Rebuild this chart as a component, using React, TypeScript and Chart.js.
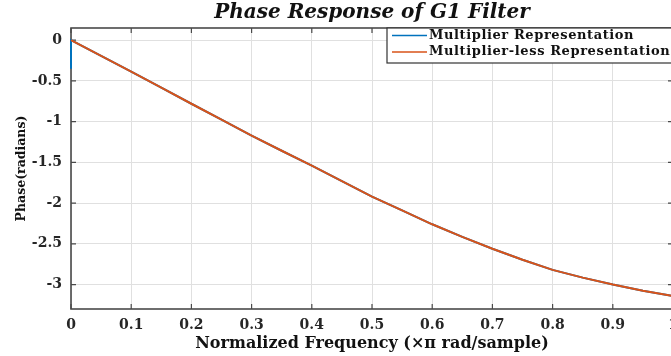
import { useEffect, useRef } from 'react';
import { Chart, registerables } from 'chart.js';

Chart.register(...registerables);

// Normalized frequency samples (x pi rad/sample)
const freq = [0, 0.05, 0.1, 0.15, 0.2, 0.25, 0.3, 0.35, 0.4, 0.45, 0.5, 0.55, 0.6, 0.65, 0.7, 0.75, 0.8, 0.85, 0.9, 0.95, 1];

// Phase (radians) of the multiplier-less realisation
const phaseMultLess = [0, -0.193, -0.387, -0.583, -0.78, -0.975, -1.17, -1.357, -1.54, -1.73, -1.92, -2.09, -2.26, -2.415, -2.56, -2.695, -2.82, -2.915, -3.0, -3.075, -3.14];

// Phase (radians) of the multiplier realisation (starts with a short jump at DC)
const freqMult = [0, 0, 0.05, 0.1, 0.15, 0.2, 0.25, 0.3, 0.35, 0.4, 0.45, 0.5, 0.55, 0.6, 0.65, 0.7, 0.75, 0.8, 0.85, 0.9, 0.95, 1];
const phaseMult = [-0.35, 0, -0.193, -0.387, -0.583, -0.78, -0.975, -1.17, -1.357, -1.54, -1.73, -1.92, -2.09, -2.26, -2.415, -2.56, -2.695, -2.82, -2.915, -3.0, -3.075, -3.14];

const xTicks = [0, 0.1, 0.2, 0.3, 0.4, 0.5, 0.6, 0.7, 0.8, 0.9, 1];
const xTickLabels = ['0', '0.1', '0.2', '0.3', '0.4', '0.5', '0.6', '0.7', '0.8', '0.9', '1'];
const yTicks = [0, -0.5, -1, -1.5, -2, -2.5, -3];
const yTickLabels = ['0', '-0.5', '-1', '-1.5', '-2', '-2.5', '-3'];

const seriesNames = ['Multiplier Representation', 'Multiplier-less Representation'];
const seriesColors = ['#0072BD', '#D95319'];

const SERIF = "'DejaVu Serif', 'Liberation Serif', serif";
const AXIS_COLOR = '#4a4a4a';

// Box around the axes with MATLAB-style inward tick marks
const framePlugin = {
  id: 'frame',
  beforeDatasetsDraw(chart: any) {
    const { ctx, chartArea } = chart;
    const { left, right, top, bottom } = chartArea;
    const xs = chart.scales.x;
    const ys = chart.scales.y;
    ctx.save();
    ctx.strokeStyle = AXIS_COLOR;
    ctx.lineWidth = 1.6;
    ctx.strokeRect(left, top, right - left, bottom - top);
    ctx.lineWidth = 1.2;
    ctx.beginPath();
    xTicks.forEach((v) => {
      const px = xs.getPixelForValue(v);
      ctx.moveTo(px, bottom);
      ctx.lineTo(px, bottom - 5);
      ctx.moveTo(px, top);
      ctx.lineTo(px, top + 5);
    });
    yTicks.forEach((v) => {
      const py = ys.getPixelForValue(v);
      ctx.moveTo(left, py);
      ctx.lineTo(left + 5, py);
      ctx.moveTo(right, py);
      ctx.lineTo(right - 5, py);
    });
    ctx.stroke();
    ctx.restore();
  },
};

// Boxed legend in the upper-right corner of the axes
const legendBoxPlugin = {
  id: 'legendBox',
  afterDraw(chart: any) {
    const { ctx, chartArea } = chart;
    const boxLeft = 387;
    const boxTop = chartArea.top;
    const boxHeight = 35;
    ctx.save();
    ctx.fillStyle = '#ffffff';
    ctx.fillRect(boxLeft, boxTop, chart.width - boxLeft + 5, boxHeight);
    ctx.strokeStyle = '#333333';
    ctx.lineWidth = 1.2;
    ctx.strokeRect(boxLeft, boxTop, chart.width - boxLeft + 5, boxHeight);
    ctx.font = `bold 13px ${SERIF}`;
    (ctx as any).letterSpacing = '0.6px';
    ctx.textBaseline = 'middle';
    ctx.textAlign = 'left';
    chart.data.datasets.forEach((ds: any, i: number) => {
      const yy = boxTop + 7.5 + i * 16.5;
      ctx.strokeStyle = ds.borderColor;
      ctx.lineWidth = 1.6;
      ctx.beginPath();
      ctx.moveTo(boxLeft + 5, yy);
      ctx.lineTo(boxLeft + 40, yy);
      ctx.stroke();
      ctx.fillStyle = '#111111';
      ctx.fillText(ds.label, boxLeft + 42, yy);
    });
    ctx.restore();
  },
};

export default function App() {
  const canvasRef = useRef<HTMLCanvasElement | null>(null);

  useEffect(() => {
    if (!canvasRef.current) return;
    const chart = new Chart(canvasRef.current, {
      type: 'line',
      data: {
        datasets: [
          {
            label: seriesNames[0],
            data: freqMult.map((f, i) => ({ x: f, y: phaseMult[i] })),
            borderColor: seriesColors[0],
            backgroundColor: seriesColors[0],
            borderWidth: 2,
            pointRadius: 0,
            tension: 0,
            clip: false,
            order: 2,
          },
          {
            label: seriesNames[1],
            data: freq.map((f, i) => ({ x: f, y: phaseMultLess[i] })),
            borderColor: seriesColors[1],
            backgroundColor: seriesColors[1],
            borderWidth: 2,
            pointRadius: 0,
            tension: 0,
            clip: false,
            order: 1,
          },
        ],
      },
      options: {
        animation: false,
        responsive: true,
        maintainAspectRatio: false,
        layout: { padding: { right: 17, left: 0, top: 0, bottom: 0 } },
        plugins: {
          legend: { display: false },
          tooltip: { enabled: false },
          title: {
            display: true,
            fullSize: false,
            text: 'Phase Response of G1 Filter',
            color: '#111111',
            font: { family: SERIF, size: 20, weight: 'bold', style: 'italic', lineHeight: 1.2 },
            padding: { top: 1, bottom: 3 },
          },
        },
        scales: {
          x: {
            type: 'linear',
            min: 0,
            max: 1,
            afterBuildTicks: (scale: any) => {
              scale.ticks = xTicks.map((v) => ({ value: v }));
            },
            afterFit: (scale: any) => {
              scale.height = 47;
            },
            ticks: {
              padding: 8,
              color: '#262626',
              maxRotation: 0,
              font: { family: SERIF, size: 14, weight: 'bold' },
              callback: (v: any) => {
                const idx = xTicks.indexOf(Number(v));
                return idx >= 0 ? xTickLabels[idx] : '';
              },
            },
            grid: { color: '#e0e0e0', lineWidth: 1, drawTicks: false },
            border: { display: false },
            title: {
              display: true,
              text: 'Normalized Frequency (×π rad/sample)',
              color: '#111111',
              font: { family: SERIF, size: 16, weight: 'bold', lineHeight: 1.2 },
              padding: { top: 0, bottom: 2.4 },
            },
          },
          y: {
            type: 'linear',
            min: -3.3,
            max: 0.15,
            afterBuildTicks: (scale: any) => {
              scale.ticks = yTicks.map((v) => ({ value: v }));
            },
            afterFit: (scale: any) => {
              scale.width = 71;
            },
            ticks: {
              padding: 9,
              color: '#262626',
              font: { family: SERIF, size: 14, weight: 'bold' },
              callback: (v: any) => {
                const idx = yTicks.indexOf(Number(v));
                return idx >= 0 ? yTickLabels[idx] : '';
              },
            },
            grid: { color: '#e0e0e0', lineWidth: 1, drawTicks: false },
            border: { display: false },
            title: {
              display: true,
              text: 'Phase(radians)',
              color: '#111111',
              font: { family: SERIF, size: 12.5, weight: 'bold', lineHeight: 1.2 },
              padding: { top: 14, bottom: 0 },
            },
          },
        },
      },
      plugins: [framePlugin, legendBoxPlugin],
    } as any);
    return () => chart.destroy();
  }, []);

  return (
    <div style={{ position: 'fixed', left: 0, top: 0, width: 690, height: 356, background: '#ffffff' }}>
      <canvas ref={canvasRef} />
    </div>
  );
}
